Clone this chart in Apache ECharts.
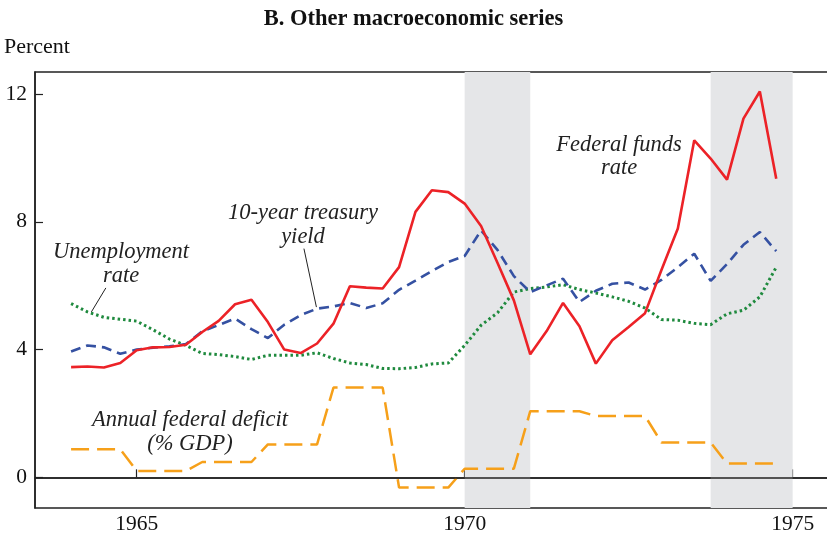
<!DOCTYPE html>
<html>
<head>
<meta charset="utf-8">
<script src="https://cdn.jsdelivr.net/npm/echarts@6/dist/echarts.min.js"></script>
<style>
  html, body { margin: 0; padding: 0; background: #fff; }
  #chart { width: 827px; height: 538px; }
</style>
</head>
<body>
<div id="chart"></div>
<script>
// quarters, 1964Q1 .. 1974Q4
var quarters = [
    1964.00, 1964.25, 1964.50, 1964.75,
    1965.00, 1965.25, 1965.50, 1965.75,
    1966.00, 1966.25, 1966.50, 1966.75,
    1967.00, 1967.25, 1967.50, 1967.75,
    1968.00, 1968.25, 1968.50, 1968.75,
    1969.00, 1969.25, 1969.50, 1969.75,
    1970.00, 1970.25, 1970.50, 1970.75,
    1971.00, 1971.25, 1971.50, 1971.75,
    1972.00, 1972.25, 1972.50, 1972.75,
    1973.00, 1973.25, 1973.50, 1973.75,
    1974.00, 1974.25, 1974.50, 1974.75
];

var fedFunds = [
    3.45, 3.47, 3.44, 3.58,  3.98, 4.07, 4.08, 4.15,
    4.55, 4.90, 5.42, 5.56,  4.86, 4.00, 3.89, 4.19,
    4.81, 5.98, 5.94, 5.91,  6.58, 8.31, 8.99, 8.93,
    8.57, 7.87, 6.72, 5.54,  3.85, 4.58, 5.46, 4.73,
    3.56, 4.29, 4.71, 5.14,  6.49, 7.79, 10.55, 9.98,
    9.32, 11.23, 12.08, 9.35
];

var treasury = [
    3.94, 4.13, 4.07, 3.87,  4.00, 4.06, 4.10, 4.17,
    4.57, 4.77, 4.97, 4.64,  4.36, 4.78, 5.08, 5.28,
    5.35, 5.46, 5.30, 5.45,  5.87, 6.16, 6.46, 6.74,
    6.93, 7.73, 7.12, 6.30,  5.80, 6.01, 6.22, 5.49,
    5.84, 6.06, 6.10, 5.88,  6.18, 6.58, 7.00, 6.15,
    6.68, 7.28, 7.68, 7.08
];

var unemployment = [
    5.44, 5.18, 5.01, 4.95,  4.89, 4.62, 4.33, 4.13,
    3.88, 3.84, 3.78, 3.69,  3.82, 3.82, 3.82, 3.90,
    3.72, 3.58, 3.53, 3.41,  3.40, 3.44, 3.55, 3.58,
    4.13, 4.76, 5.15, 5.80,  5.91, 5.96, 6.03, 5.88,
    5.77, 5.65, 5.51, 5.30,  4.94, 4.92, 4.82, 4.78,
    5.12, 5.23, 5.65, 6.58
];

// annual values, held for each quarter of the year
var deficit = [
    0.88, 0.88, 0.88, 0.88,  0.20, 0.20, 0.20, 0.20,
    0.48, 0.48, 0.48, 0.48,  1.03, 1.03, 1.03, 1.03,
    2.81, 2.81, 2.81, 2.81, -0.32, -0.32, -0.32, -0.32,
    0.27, 0.27, 0.27, 0.27,  2.07, 2.07, 2.07, 2.07,
    1.92, 1.92, 1.92, 1.92,  1.09, 1.09, 1.09, 1.09,
    0.43, 0.43, 0.43, 0.43
];

var recessions = [[1970.0, 1971.0], [1973.75, 1975.0]];
var xTicks = [1965, 1970, 1975];
var yTicks = [0, 4, 8, 12];

// leader lines of the annotations, in data units
var unempLeader = [[1964.53, 5.93], [1964.31, 5.18]];
var treasLeader = [[1967.55, 7.16], [1967.74, 5.33]];

function pairs(vals) {
    return quarters.map(function (q, i) { return [q, vals[i]]; });
}

var FONT = '"Liberation Serif", "DejaVu Serif", serif';
var NOTE = 'italic 22.5px ' + FONT;
var myChart = echarts.init(document.getElementById('chart'));

function note(txt, x, y) {
    return {
        type: 'text', x: x, y: y,
        style: { text: txt, font: NOTE, fill: '#222', align: 'center', verticalAlign: 'middle' }
    };
}

var option = {
    animation: false,
    backgroundColor: '#fff',
    textStyle: { fontFamily: FONT },
    title: {
        text: 'B. Other macroeconomic series',
        left: 'center',
        top: 3,
        textStyle: { fontFamily: FONT, fontSize: 22.5, fontWeight: 'bold', color: '#111' }
    },
    grid: {
        left: 35, right: -5, top: 72, bottom: 30,
        outerBoundsMode: 'none',
        containLabel: false,
        show: true, borderColor: '#222', borderWidth: 1.5, backgroundColor: 'transparent'
    },
    xAxis: {
        type: 'value',
        min: 1963.45,
        max: 1975.6,
        axisLine: { show: true, lineStyle: { color: '#222', width: 1.5 } },
        axisTick: { show: true, inside: true, length: 8, customValues: xTicks, lineStyle: { color: '#222', width: 1.2 } },
        axisLabel: {
            customValues: xTicks, margin: 5, fontFamily: FONT, fontSize: 21.5, color: '#111',
            formatter: function (v) { return String(Math.round(v)); }
        },
        splitLine: { show: false }
    },
    yAxis: {
        type: 'value',
        min: -0.96,
        max: 12.69,
        axisLine: { show: true, lineStyle: { color: '#222', width: 1.5 } },
        axisTick: { show: true, inside: true, length: 8, customValues: yTicks, lineStyle: { color: '#222', width: 1.2 } },
        axisLabel: { customValues: yTicks, margin: 8, fontFamily: FONT, fontSize: 21.5, color: '#111' },
        splitLine: { show: false }
    },
    graphic: [
        { type: 'text', x: 4, y: 47, style: { text: 'Percent', font: '22px ' + FONT, fill: '#111', verticalAlign: 'middle' } },
        note('Unemployment', 121, 252),
        note('rate', 121, 276),
        note('10-year treasury', 303, 213),
        note('yield', 303, 237),
        note('Federal funds', 619, 145),
        note('rate', 619, 168),
        note('Annual federal deficit', 190, 420),
        note('(% GDP)', 190, 444)
    ],
    series: [
        {
            name: 'recessions',
            type: 'line',
            data: [],
            silent: true,
            markArea: {
                silent: true,
                itemStyle: { color: '#e5e6e8' },
                data: recessions.map(function (r) { return [{ xAxis: r[0] }, { xAxis: r[1] }]; })
            },
            markLine: {
                silent: true,
                symbol: 'none',
                label: { show: false },
                lineStyle: { color: '#222', width: 1.5, type: 'solid' },
                data: [{ yAxis: 0 }]
            }
        },
        {
            name: 'Annual federal deficit',
            type: 'line',
            data: pairs(deficit),
            showSymbol: false,
            lineStyle: { color: '#f6a01a', width: 2.5, type: [18, 8] },
            z: 3
        },
        {
            name: 'Unemployment rate',
            type: 'line',
            data: pairs(unemployment),
            showSymbol: false,
            lineStyle: { color: '#1f8a3e', width: 3, type: [2.5, 3] },
            z: 3
        },
        {
            name: '10-year treasury yield',
            type: 'line',
            data: pairs(treasury),
            showSymbol: false,
            lineStyle: { color: '#3551a2', width: 2.6, type: [10, 6] },
            z: 4
        },
        {
            name: 'Federal funds rate',
            type: 'line',
            data: pairs(fedFunds),
            showSymbol: false,
            lineStyle: { color: '#ec2227', width: 2.6 },
            z: 5
        },
        {
            name: 'leader1',
            type: 'line',
            data: unempLeader,
            showSymbol: false,
            silent: true,
            lineStyle: { color: '#222', width: 1 },
            z: 6
        },
        {
            name: 'leader2',
            type: 'line',
            data: treasLeader,
            showSymbol: false,
            silent: true,
            lineStyle: { color: '#222', width: 1 },
            z: 6
        }
    ]
};

myChart.setOption(option);
</script>
</body>
</html>
